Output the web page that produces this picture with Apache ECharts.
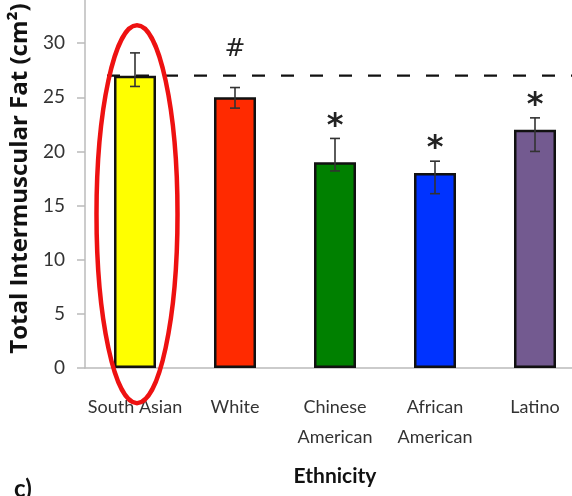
<!DOCTYPE html>
<html>
<head>
<meta charset="utf-8">
<script src="https://cdn.jsdelivr.net/npm/echarts@6/dist/echarts.min.js"></script>
<style>
  html, body { margin: 0; padding: 0; background: #fff; }
  #chart { width: 572px; height: 496px; }
</style>
</head>
<body>
<div id="chart"></div>
<script>
// Total intermuscular fat by ethnicity (mean with error bars)
var categories = ['South Asian', 'White', 'Chinese\nAmerican', 'African\nAmerican', 'Latino'];
var fatMean = [27, 25, 19, 18, 22];
var errHigh = [29.1, 25.9, 21.2, 19.1, 23.1];
var errLow = [26.0, 24.0, 18.2, 16.1, 20.0];
var sigMarks = ['', '#', '*', '*', '*'];
var referenceLevel = 27;            // South Asian mean, drawn as the dashed reference
var yMin = 0, yMax = 35, yStep = 5;
var barColors = ['#FFFF00', '#FF2A00', '#008000', '#0033FF', '#735A90'];

var FONT = 'Lato';

var chart = echarts.init(document.getElementById('chart'), null, { renderer: 'canvas' });

function renderOverlay(params, api) {
  var i = params.dataIndex;
  var xc = api.coord([i, 0])[0];
  var band = api.size([1, 0])[0];
  var unitY = api.size([0, 1])[1];
  var top = api.coord([i, api.value(1)]);
  var bot = api.coord([i, api.value(2)]);
  var cap = 5;
  var children = [
    { type: 'line', shape: { x1: xc, y1: top[1], x2: xc, y2: bot[1] }, style: { stroke: '#333', lineWidth: 1.6 } },
    { type: 'line', shape: { x1: xc - cap, y1: top[1], x2: xc + cap, y2: top[1] }, style: { stroke: '#333', lineWidth: 1.6 } },
    { type: 'line', shape: { x1: xc - cap, y1: bot[1], x2: xc + cap, y2: bot[1] }, style: { stroke: '#333', lineWidth: 1.6 } }
  ];
  var mark = sigMarks[i];
  if (mark) {
    var isHash = mark === '#';
    children.push({
      type: 'text',
      style: {
        text: mark, x: xc, y: top[1] - (isHash ? 26 : -4),
        align: 'center', verticalAlign: 'bottom',
        font: (isHash ? '25px ' : 'bold 32px ') + 'DejaVu Sans', fill: '#222'
      }
    });
  }
  if (i === 0) {
    // dashed reference line at the South Asian level
    var ry = api.coord([i, referenceLevel])[1];
    children.push({
      type: 'line',
      shape: { x1: xc - band * 0.28, y1: ry, x2: xc + band * 5, y2: ry },
      style: { stroke: '#111', lineWidth: 2.4, lineDash: [13, 16] }
    });
    // highlight ellipse around the South Asian bar
    var c = api.coord([i, 14.2]);
    children.push({
      type: 'ellipse',
      shape: { cx: c[0] + 2, cy: c[1], rx: band * 0.405, ry: unitY * 17.45 },
      style: { stroke: '#EE1111', lineWidth: 4.5, fill: 'none' },
      z2: 10
    });
  }
  return { type: 'group', children: children };
}

chart.setOption({
  animation: false,
  backgroundColor: '#fff',
  grid: { left: 85, right: -13, top: -11, bottom: 128, containLabel: false, outerBoundsMode: 'none' },
  xAxis: {
    type: 'category',
    data: categories,
    axisLine: { lineStyle: { color: '#BBBBBB', width: 1.5 } },
    axisTick: { show: false },
    axisLabel: { color: '#333', fontFamily: FONT, fontSize: 18, margin: 24, lineHeight: 30, interval: 0 },
    name: 'Ethnicity',
    nameLocation: 'middle',
    nameGap: 98,
    nameTextStyle: { color: '#111', fontFamily: FONT, fontSize: 21, fontWeight: 'bold' }
  },
  yAxis: {
    type: 'value',
    min: yMin,
    max: yMax,
    interval: yStep,
    splitLine: { show: false },
    axisLine: { show: true, lineStyle: { color: '#BBBBBB', width: 1.5 } },
    axisTick: { show: true, length: 8, lineStyle: { color: '#BBBBBB', width: 1.5 } },
    axisLabel: { color: '#333', fontFamily: FONT, fontSize: 19, margin: 20 },
    name: 'Total Intermuscular Fat (cm²)',
    nameLocation: 'middle',
    nameGap: 45,
    nameRotate: 90,
    nameTextStyle: { color: '#111', fontFamily: 'Open Sans', fontSize: 24, fontWeight: 'bold' }
  },
  series: [
    {
      type: 'bar',
      barWidth: '42%',
      data: fatMean.map(function (v, i) {
        return { value: v, itemStyle: { color: barColors[i] } };
      }),
      itemStyle: { borderColor: '#111', borderWidth: 2.5 }
    },
    {
      type: 'custom',
      clip: false,
      renderItem: renderOverlay,
      data: categories.map(function (c, i) { return [i, errHigh[i], errLow[i]]; }),
      z: 5
    }
  ],
  graphic: [
    { type: 'text', left: 14, top: 477, style: { text: 'c)', font: 'bold 24px ' + FONT, fill: '#111' } }
  ]
});
</script>
</body>
</html>
